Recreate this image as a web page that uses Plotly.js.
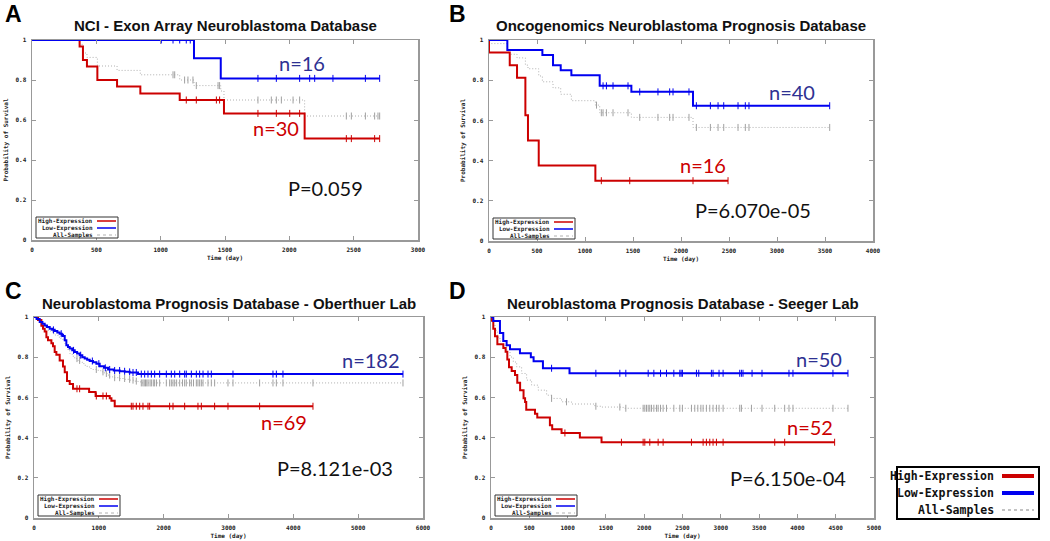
<!DOCTYPE html>
<html>
<head>
<meta charset="utf-8">
<script src="https://cdn.plot.ly/plotly-3.0.1.min.js"></script>
<style>body{margin:0;background:#fff}#chart{width:1050px;height:541px}</style>
</head>
<body>
<div id="chart"></div>
<script>
// ---- panel A: NCI exon array (days, survival) ----
const highA_t = [370, 396, 427, 508, 661, 842, 1148, 1492, 2119];
const highA_s = [0.967, 0.9, 0.867, 0.8, 0.767, 0.733, 0.7, 0.633, 0.507];
const highA_cens = [1199, 1277, 1433, 1458, 1756, 1899, 2003, 2080, 2443, 2482, 2663, 2702];
const lowA_t = [1259, 1467];
const lowA_s = [0.909, 0.808];
const lowA_cens = [1005, 1096, 1148, 1199, 1230, 1756, 1899, 2080, 2158, 2197, 2339, 2591, 2702];
const allA_t = [370, 396, 427, 508, 661, 842, 1148, 1259, 1467, 1492, 2119];
const allA_s = [0.978, 0.935, 0.913, 0.87, 0.848, 0.826, 0.8, 0.772, 0.745, 0.7, 0.62];
const allA_cens = [1096, 1109, 1186, 1212, 1251, 1277, 1446, 1458, 1756, 1860, 1899, 1938, 2029, 2080, 2443, 2482, 2591, 2663, 2689, 2702];

// ---- panel B: Oncogenomics ----
const highB_t = [0, 216, 292, 379, 406, 518, 1108];
const highB_s = [0.9375, 0.875, 0.8125, 0.625, 0.5, 0.375, 0.3];
const highB_cens = [1170, 1466, 2125, 2490];
const lowB_t = [191, 556, 667, 747, 858, 1153, 1483, 2125];
const lowB_s = [0.95, 0.925, 0.875, 0.85, 0.825, 0.772, 0.742, 0.673];
const lowB_cens = [1188, 1223, 1292, 1448, 1570, 1760, 1882, 1917, 2083, 2160, 2306, 2386, 2445, 2594, 2670, 2708, 3549];
const allB_t = [0, 191, 216, 292, 379, 406, 518, 556, 667, 747, 858, 1108, 1153, 1483, 2125];
const allB_s = [0.982, 0.946, 0.929, 0.911, 0.875, 0.857, 0.821, 0.792, 0.762, 0.73, 0.698, 0.676, 0.638, 0.615, 0.565];
const allB_cens = [1120, 1170, 1188, 1223, 1292, 1448, 1570, 1760, 1882, 1917, 2083, 2160, 2306, 2386, 2445, 2594, 2670, 2708, 3549];

// ---- panel C: Oberthuer ----
const highC_t = [62, 114, 139, 165, 191, 216, 268, 293, 319, 345, 396, 447, 474, 509, 551, 602, 850, 950, 1168, 1194, 1245];
const highC_s = [0.985, 0.957, 0.942, 0.928, 0.899, 0.884, 0.87, 0.855, 0.826, 0.812, 0.783, 0.754, 0.725, 0.681, 0.667, 0.643, 0.627, 0.607, 0.596, 0.583, 0.556];
const highC_cens = [663, 704, 961, 1064, 1116, 1501, 1527, 1578, 1630, 1681, 1758, 1784, 2092, 2144, 2324, 2529, 2581, 2786, 2992, 3480, 4303];
const lowC_t = [40, 88, 130, 165, 200, 242, 280, 319, 360, 396, 430, 447, 474, 499, 525, 551, 590, 628, 665, 705, 745, 782, 820, 859, 910, 962, 1013, 1080, 1142, 1230, 1322, 1400, 1476, 1605];
const lowC_s = [0.99, 0.975, 0.966, 0.958, 0.95, 0.942, 0.936, 0.93, 0.923, 0.917, 0.912, 0.905, 0.884, 0.859, 0.851, 0.843, 0.834, 0.826, 0.818, 0.81, 0.8, 0.793, 0.787, 0.781, 0.775, 0.768, 0.755, 0.747, 0.739, 0.734, 0.73, 0.727, 0.724, 0.716];
const lowC_cens = [300, 420, 610, 720, 900, 1000, 1100, 1167, 1244, 1321, 1398, 1475, 1527, 1578, 1655, 1707, 1758, 1810, 1861, 1938, 2041, 2118, 2170, 2247, 2324, 2349, 2427, 2504, 2555, 2607, 2684, 2735, 3069, 3686, 3738, 3840, 5691];
const allC_t = [30, 62, 100, 139, 180, 216, 255, 293, 330, 370, 410, 447, 474, 499, 525, 551, 590, 628, 665, 705, 745, 782, 820, 859, 910, 962, 1030, 1090, 1130, 1168, 1240, 1322, 1400, 1476, 1540, 1605, 1650];
const allC_s = [0.992, 0.985, 0.972, 0.958, 0.946, 0.934, 0.926, 0.917, 0.909, 0.9, 0.892, 0.884, 0.868, 0.851, 0.834, 0.818, 0.805, 0.793, 0.784, 0.776, 0.768, 0.76, 0.752, 0.744, 0.739, 0.735, 0.727, 0.719, 0.711, 0.702, 0.698, 0.694, 0.69, 0.686, 0.681, 0.677, 0.672];
const allC_cens = [663, 704, 961, 1064, 1116, 1167, 1244, 1321, 1398, 1475, 1527, 1578, 1655, 1680, 1700, 1720, 1740, 1760, 1790, 1810, 1840, 1861, 1890, 1938, 2041, 2092, 2118, 2144, 2170, 2200, 2247, 2290, 2324, 2349, 2400, 2427, 2460, 2504, 2529, 2555, 2581, 2607, 2684, 2735, 2786, 2992, 3069, 3480, 3686, 3738, 3840, 4303, 5691];

// ---- panel D: Seeger ----
const highD_t = [10, 30, 52, 83, 161, 191, 213, 235, 270, 313, 343, 380, 425, 445, 460, 574, 604, 769, 799, 921, 1160, 1443];
const highD_s = [0.981, 0.942, 0.904, 0.865, 0.846, 0.827, 0.788, 0.75, 0.731, 0.712, 0.673, 0.635, 0.596, 0.577, 0.538, 0.519, 0.5, 0.462, 0.442, 0.423, 0.4, 0.377];
const highD_cens = [965, 1703, 1986, 2008, 2073, 2182, 2247, 2617, 2769, 2812, 2856, 2899, 2943, 3030, 3704, 3834, 4486];
const lowD_t = [30, 117, 160, 204, 248, 378, 520, 556, 678, 1025];
const lowD_s = [0.98, 0.92, 0.88, 0.86, 0.84, 0.82, 0.8, 0.78, 0.745, 0.72];
const lowD_cens = [791, 1369, 1682, 1760, 2052, 2126, 2213, 2291, 2387, 2465, 2482, 2499, 2682, 2712, 2877, 2899, 2977, 3030, 3247, 3269, 3290, 3408, 3538, 3890, 3942, 4464, 4660];
const allD_t = [10, 30, 52, 83, 117, 161, 204, 248, 291, 335, 400, 465, 530, 617, 726, 791, 921, 1051, 1356, 1443, 1725];
const allD_s = [0.99, 0.961, 0.934, 0.9, 0.88, 0.859, 0.826, 0.801, 0.776, 0.752, 0.719, 0.686, 0.661, 0.636, 0.611, 0.595, 0.578, 0.567, 0.556, 0.552, 0.546];
const allD_cens = [791, 986, 1369, 1682, 1760, 1986, 2008, 2030, 2052, 2073, 2095, 2126, 2160, 2182, 2213, 2247, 2291, 2387, 2465, 2499, 2617, 2660, 2700, 2740, 2769, 2812, 2856, 2899, 2943, 2977, 3030, 3247, 3269, 3400, 3538, 3704, 3834, 3890, 3942, 4464, 4660];

const seriesNames = ["High-Expression", "Low-Expression", "All-Samples"];
const panelLetters = ["A", "B", "C", "D"];
const panelTitles = [
  "NCI - Exon Array Neuroblastoma Database",
  "Oncogenomics Neuroblastoma Prognosis Database",
  "Neuroblastoma Prognosis Database - Oberthuer Lab",
  "Neuroblastoma Prognosis Database - Seeger Lab"
];
const xMax = [3000, 4000, 6000, 5000];
const xStep = [500, 500, 1000, 500];
const nLow = ["n=16", "n=40", "n=182", "n=50"];
const nHigh = ["n=30", "n=16", "n=69", "n=52"];
const pValues = ["P=0.059", "P=6.070e-05", "P=8.121e-03", "P=6.150e-04"];

const W = 1050, H = 541;
const RED = "#cc0000", BLUE = "#0000f0", GRAY = "#b0b0b0";
const NAVY = "#2e3192";
const MONO = "DejaVu Sans Mono";
const SANS = "Liberation Sans, Arial, sans-serif";

// plot boxes in pixels [left, top, right, bottom]
const boxes = [[32, 40, 418, 240], [489, 40, 873, 241], [34, 317, 423, 518], [491, 317, 874, 518]];
// where the inline labels sit, in pixels [x, y]
const lowPos = [[302, 63], [792, 92], [371, 360], [819, 359]];
const highPos = [[276, 128], [703, 165], [284, 422], [810, 427]];
const pPos = [[325, 188], [753, 210], [335, 468], [788, 478]];

const groups = [
  [[highA_t, highA_s, highA_cens], [lowA_t, lowA_s, lowA_cens], [allA_t, allA_s, allA_cens]],
  [[highB_t, highB_s, highB_cens], [lowB_t, lowB_s, lowB_cens], [allB_t, allB_s, allB_cens]],
  [[highC_t, highC_s, highC_cens], [lowC_t, lowC_s, lowC_cens], [allC_t, allC_s, allC_cens]],
  [[highD_t, highD_s, highD_cens], [lowD_t, lowD_s, lowD_cens], [allD_t, allD_s, allD_cens]]
];

const px = x => x / W;
const py = y => 1 - y / H;

function survAt(t, s, time) {
  let v = 1;
  for (let i = 0; i < t.length; i++) if (t[i] <= time) v = s[i];
  return v;
}

const colors = [RED, BLUE, GRAY];
const traces = [];
const layout = {
  width: W, height: H,
  margin: {l: 0, r: 0, t: 0, b: 0},
  paper_bgcolor: "#fff", plot_bgcolor: "#fff",
  showlegend: false,
  annotations: [], shapes: []
};

groups.forEach((grp, p) => {
  const sfx = p === 0 ? "" : String(p + 1);
  const [l, t, r, b] = boxes[p];
  // gray first so the coloured lines sit on top
  [2, 0, 1].forEach(k => {
    const [times, surv, cens] = grp[k];
    const end = Math.max(...cens);
    const col = colors[k];
    traces.push({
      x: [0, ...times, end], y: [1, ...surv, surv[surv.length - 1]],
      xaxis: "x" + sfx, yaxis: "y" + sfx,
      mode: "lines", line: {shape: "hv", color: col, width: k === 2 ? 1 : 2, dash: k === 2 ? "1px,2px" : "solid"},
      hoverinfo: "skip"
    });
    traces.push({
      x: cens, y: cens.map(c => survAt(times, surv, c)),
      xaxis: "x" + sfx, yaxis: "y" + sfx,
      mode: "markers",
      marker: {symbol: "line-ns", size: 5, line: {width: 1, color: k === 2 ? "#a0a0a0" : col}},
      hoverinfo: "skip"
    });
  });

  const axBase = {
    showline: true, mirror: "ticks", linecolor: "#999", linewidth: 1.5,
    ticks: "inside", ticklen: 4, tickcolor: "#999", tickwidth: 1,
    showgrid: false, zeroline: false,
    tickfont: {family: MONO, size: 6, color: "#222", weight: "bold"},
    ticklabelstandoff: 3
  };
  layout["xaxis" + sfx] = Object.assign({}, axBase, {
    domain: [px(l), px(r)], anchor: "y" + sfx,
    range: [0, xMax[p]], dtick: xStep[p], tick0: 0,
    title: {text: "Time (day)", font: {family: MONO, size: 6, color: "#222", weight: "bold"}, standoff: 4}
  });
  layout["yaxis" + sfx] = Object.assign({}, axBase, {
    domain: [py(b), py(t)], anchor: "x" + sfx,
    range: [0, 1], dtick: 0.2, tick0: 0,
    title: {text: "Probability of Survival", font: {family: MONO, size: 6, color: "#222", weight: "bold"}, standoff: 6}
  });

  // titles and panel letters
  layout.annotations.push({
    xref: "paper", yref: "paper", x: px((l + r) / 2), y: py(t - 14), xanchor: "center", yanchor: "middle",
    text: panelTitles[p], showarrow: false, font: {family: SANS, size: 15, color: "#111", weight: "bold"}
  });
  layout.annotations.push({
    xref: "paper", yref: "paper", x: px(p % 2 === 0 ? 3 : 447), y: py(t - 26), xanchor: "left", yanchor: "middle",
    text: panelLetters[p], showarrow: false, font: {family: SANS, size: 23, color: "#000", weight: "bold"}
  });

  // inline labels
  const lab = (pos, text, color) => layout.annotations.push({
    xref: "paper", yref: "paper", x: px(pos[0]), y: py(pos[1]), xanchor: "center", yanchor: "middle",
    text: text, showarrow: false, font: {family: "Lato, Open Sans, sans-serif", size: 20, color: color}
  });
  lab(lowPos[p], nLow[p], NAVY);
  lab(highPos[p], nHigh[p], RED);
  lab(pPos[p], pValues[p], "#111");

  // small key in lower-left corner
  const kx0 = l + 4, ky0 = b - 23, kx1 = kx0 + 82, ky1 = b - 2;
  layout.shapes.push({type: "rect", xref: "paper", yref: "paper", x0: px(kx0), x1: px(kx1), y0: py(ky1), y1: py(ky0),
    line: {color: "#333", width: 1}, fillcolor: "#fff"});
  seriesNames.forEach((nm, k) => {
    const yy = ky0 + 4 + k * 7;
    layout.annotations.push({
      xref: "paper", yref: "paper", x: px(kx0 + 59), y: py(yy), xanchor: "right", yanchor: "middle",
      text: nm, showarrow: false, font: {family: MONO, size: 6, color: "#222", weight: "bold"}
    });
    layout.shapes.push({type: "line", xref: "paper", yref: "paper", x0: px(kx0 + 61), x1: px(kx0 + 80), y0: py(yy), y1: py(yy),
      line: {color: colors[k], width: k === 2 ? 1 : 1.5, dash: k === 2 ? "dot" : "solid"}});
  });
});

// big key at bottom right
layout.shapes.push({type: "rect", xref: "paper", yref: "paper", x0: px(897), x1: px(1039), y0: py(519), y1: py(467),
  line: {color: "#000", width: 2}, fillcolor: "#fff"});
seriesNames.forEach((nm, k) => {
  const yy = 476 + k * 17;
  layout.annotations.push({
    xref: "paper", yref: "paper", x: px(996), y: py(yy), xanchor: "right", yanchor: "middle",
    text: nm, showarrow: false, font: {family: MONO, size: 11.5, color: "#111", weight: "bold"}
  });
  layout.shapes.push({type: "line", xref: "paper", yref: "paper", x0: px(1002), x1: px(1034), y0: py(yy), y1: py(yy),
    line: {color: colors[k], width: k === 2 ? 1.5 : 4, dash: k === 2 ? "dot" : "solid"}});
});

Plotly.newPlot("chart", traces, layout, {displayModeBar: false, staticPlot: true});
</script>
</body>
</html>
